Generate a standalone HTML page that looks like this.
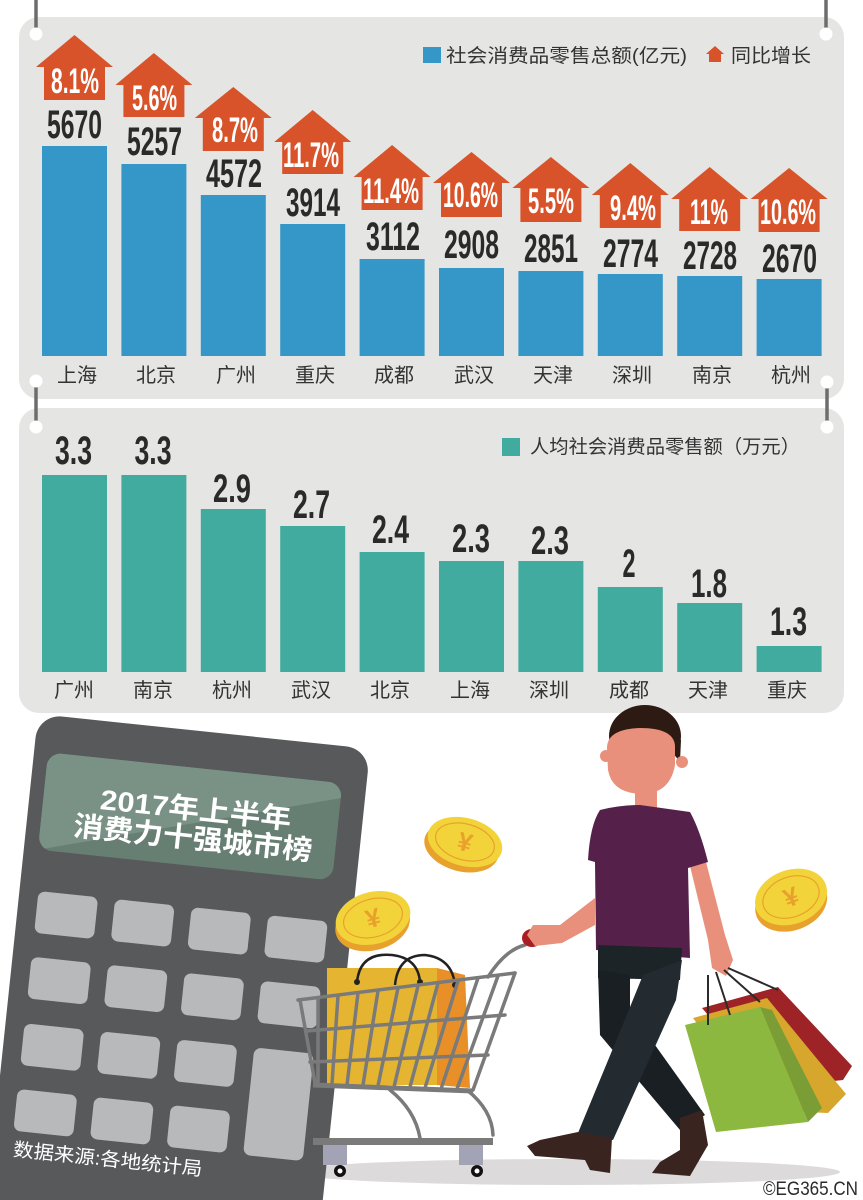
<!DOCTYPE html>
<html><head><meta charset="utf-8"><style>
html,body{margin:0;padding:0;background:#fff;width:863px;height:1200px;overflow:hidden;}
svg{display:block;overflow:hidden;}
.num{font-family:"Liberation Sans Narrow","Liberation Sans",sans-serif;font-weight:bold;fill:#2a2a2a;font-size:40px;text-anchor:middle;}
.pct{font-family:"Liberation Sans Narrow","Liberation Sans",sans-serif;font-weight:bold;fill:#fff;font-size:35px;text-anchor:middle;}
.city{font-family:"Liberation Sans","Noto Sans CJK SC",sans-serif;fill:#333;font-size:20px;text-anchor:middle;}
.leg{font-family:"Liberation Sans","Noto Sans CJK SC",sans-serif;fill:#333;font-size:19px;}
</style></head><body>
<svg width="863" height="1200" viewBox="0 0 863 1200" xmlns="http://www.w3.org/2000/svg">
<!-- panels -->
<rect x="19" y="17" width="825" height="382" rx="20" fill="#e5e5e4"/>
<rect x="19" y="408" width="825" height="305" rx="20" fill="#e5e5e4"/>
<!-- hangers -->
<g stroke="#6d6d6d" stroke-width="3.5">
<line x1="36" y1="0" x2="36" y2="30"/><line x1="826" y1="0" x2="826" y2="30"/>
<line x1="36" y1="386" x2="36" y2="423"/><line x1="827" y1="386" x2="827" y2="423"/>
</g>
<g fill="#fff">
<circle cx="36" cy="34" r="6.5"/><circle cx="826" cy="34" r="6.5"/>
<circle cx="36" cy="381" r="6.5"/><circle cx="827" cy="382" r="6.5"/>
<circle cx="36" cy="427" r="6.5"/><circle cx="827" cy="427" r="6.5"/>
</g>
<!-- legend 1 -->
<rect x="423" y="47" width="18" height="16" fill="#3596c8"/>
<text class="leg" x="446" y="62" textLength="241" lengthAdjust="spacingAndGlyphs">社会消费品零售总额(亿元)</text>
<path d="M715,46 L724,54 L721,54 L721,62 L709,62 L709,54 L706,54 Z" fill="#d9532a"/>
<text class="leg" x="731" y="62" textLength="80" lengthAdjust="spacingAndGlyphs">同比增长</text>
<!-- bars panel 1 -->
<g fill="#3596c8">
<rect x="42" y="146" width="65" height="210"/>
<rect x="121.4" y="164" width="65" height="192"/>
<rect x="200.8" y="195" width="65" height="161"/>
<rect x="280.2" y="224" width="65" height="132"/>
<rect x="359.6" y="259" width="65" height="97"/>
<rect x="439" y="268" width="65" height="88"/>
<rect x="518.4" y="271" width="65" height="85"/>
<rect x="597.8" y="274" width="65" height="82"/>
<rect x="677.2" y="276" width="65" height="80"/>
<rect x="756.6" y="279" width="65" height="77"/>
</g>
<!-- arrows -->
<g fill="#d9532a">
<path d="M74.5,35 L113,67 L105,67 L105,100 L44,100 L44,67 L36,67 Z"/>
<path d="M153.9,53 L192.4,85 L184.4,85 L184.4,117 L123.4,117 L123.4,85 L115.4,85 Z"/>
<path d="M233.3,87 L271.8,118 L263.8,118 L263.8,151 L202.8,151 L202.8,118 L194.8,118 Z"/>
<path d="M312.7,110 L351.2,142 L343.2,142 L343.2,174 L282.2,174 L282.2,142 L274.2,142 Z"/>
<path d="M392.1,145 L430.6,177 L422.6,177 L422.6,210 L361.6,210 L361.6,177 L353.6,177 Z"/>
<path d="M471.5,152 L510,183 L502,183 L502,217 L441,217 L441,183 L433,183 Z"/>
<path d="M550.9,157 L589.4,188 L581.4,188 L581.4,222 L520.4,222 L520.4,188 L512.4,188 Z"/>
<path d="M630.3,163 L668.8,195 L660.8,195 L660.8,228 L599.8,228 L599.8,195 L591.8,195 Z"/>
<path d="M709.7,167 L748.2,199 L740.2,199 L740.2,231 L679.2,231 L679.2,199 L671.2,199 Z"/>
<path d="M789.1,168 L827.6,199 L819.6,199 L819.6,232 L758.6,232 L758.6,199 L750.6,199 Z"/>
</g>
<!-- pct labels -->
<text class="pct" x="75" y="93" textLength="48" lengthAdjust="spacingAndGlyphs">8.1%</text>
<text class="pct" x="154.5" y="110" textLength="45" lengthAdjust="spacingAndGlyphs">5.6%</text>
<text class="pct" x="235" y="142" textLength="46" lengthAdjust="spacingAndGlyphs">8.7%</text>
<text class="pct" x="311" y="167" textLength="56" lengthAdjust="spacingAndGlyphs">11.7%</text>
<text class="pct" x="391" y="203" textLength="56" lengthAdjust="spacingAndGlyphs">11.4%</text>
<text class="pct" x="470.5" y="207" textLength="55" lengthAdjust="spacingAndGlyphs">10.6%</text>
<text class="pct" x="551" y="213" textLength="46" lengthAdjust="spacingAndGlyphs">5.5%</text>
<text class="pct" x="633" y="220" textLength="46" lengthAdjust="spacingAndGlyphs">9.4%</text>
<text class="pct" x="709" y="224" textLength="38" lengthAdjust="spacingAndGlyphs">11%</text>
<text class="pct" x="788" y="224" textLength="56" lengthAdjust="spacingAndGlyphs">10.6%</text>
<!-- value labels -->
<text class="num" x="74.5" y="138" textLength="55" lengthAdjust="spacingAndGlyphs">5670</text>
<text class="num" x="154.5" y="155" textLength="55" lengthAdjust="spacingAndGlyphs">5257</text>
<text class="num" x="234" y="187" textLength="56" lengthAdjust="spacingAndGlyphs">4572</text>
<text class="num" x="313" y="216" textLength="54" lengthAdjust="spacingAndGlyphs">3914</text>
<text class="num" x="393" y="250" textLength="54" lengthAdjust="spacingAndGlyphs">3112</text>
<text class="num" x="471.5" y="258" textLength="55" lengthAdjust="spacingAndGlyphs">2908</text>
<text class="num" x="551" y="262" textLength="54" lengthAdjust="spacingAndGlyphs">2851</text>
<text class="num" x="630.5" y="267" textLength="55" lengthAdjust="spacingAndGlyphs">2774</text>
<text class="num" x="710" y="269" textLength="54" lengthAdjust="spacingAndGlyphs">2728</text>
<text class="num" x="789.5" y="272" textLength="55" lengthAdjust="spacingAndGlyphs">2670</text>
<!-- cities panel 1 -->
<text class="city" x="77" y="382">上海</text>
<text class="city" x="156" y="382">北京</text>
<text class="city" x="236" y="382">广州</text>
<text class="city" x="315" y="382">重庆</text>
<text class="city" x="394" y="382">成都</text>
<text class="city" x="474" y="382">武汉</text>
<text class="city" x="553" y="382">天津</text>
<text class="city" x="632" y="382">深圳</text>
<text class="city" x="712" y="382">南京</text>
<text class="city" x="791" y="382">杭州</text>
<!-- panel 2 legend -->
<rect x="502" y="438" width="18" height="18" fill="#42ab9f"/>
<text class="leg" x="530" y="453" textLength="270" lengthAdjust="spacingAndGlyphs">人均社会消费品零售额（万元）</text>
<!-- bars panel 2 -->
<g fill="#42ab9f">
<rect x="42" y="475" width="65" height="197"/>
<rect x="121.4" y="475" width="65" height="197"/>
<rect x="200.8" y="509" width="65" height="163"/>
<rect x="280.2" y="526" width="65" height="146"/>
<rect x="359.6" y="552" width="65" height="120"/>
<rect x="439" y="561" width="65" height="111"/>
<rect x="518.4" y="561" width="65" height="111"/>
<rect x="597.8" y="587" width="65" height="85"/>
<rect x="677.2" y="603" width="65" height="69"/>
<rect x="756.6" y="646" width="65" height="26"/>
</g>
<text class="num" x="73.5" y="464" textLength="37" lengthAdjust="spacingAndGlyphs">3.3</text>
<text class="num" x="153" y="464" textLength="37" lengthAdjust="spacingAndGlyphs">3.3</text>
<text class="num" x="232" y="502" textLength="38" lengthAdjust="spacingAndGlyphs">2.9</text>
<text class="num" x="311.5" y="518" textLength="37" lengthAdjust="spacingAndGlyphs">2.7</text>
<text class="num" x="390.5" y="543" textLength="37" lengthAdjust="spacingAndGlyphs">2.4</text>
<text class="num" x="471" y="552" textLength="38" lengthAdjust="spacingAndGlyphs">2.3</text>
<text class="num" x="550" y="554" textLength="38" lengthAdjust="spacingAndGlyphs">2.3</text>
<text class="num" x="629" y="577" textLength="13" lengthAdjust="spacingAndGlyphs">2</text>
<text class="num" x="709" y="597" textLength="36" lengthAdjust="spacingAndGlyphs">1.8</text>
<text class="num" x="788.5" y="635" textLength="37" lengthAdjust="spacingAndGlyphs">1.3</text>
<text class="city" x="74" y="697">广州</text>
<text class="city" x="153" y="697">南京</text>
<text class="city" x="232" y="697">杭州</text>
<text class="city" x="311" y="697">武汉</text>
<text class="city" x="390" y="697">北京</text>
<text class="city" x="470" y="697">上海</text>
<text class="city" x="549" y="697">深圳</text>
<text class="city" x="629" y="697">成都</text>
<text class="city" x="708" y="697">天津</text>
<text class="city" x="787" y="697">重庆</text>

<!-- shadow -->
<ellipse cx="565" cy="1172" rx="275" ry="13" fill="#dcdada"/>

<!-- calculator body (absolute coords, clipped to frame) -->
<path d="M35.5,737.9 A24,24 0 0 1 61.9,716.5 L346.3,746.4 A24,24 0 0 1 367.7,772.8 L322.8,1200 L0,1200 L0,1075.5 Z" fill="#58595b"/>
<g transform="translate(38,714) rotate(6)">
<clipPath id="scr"><rect x="14" y="37" width="296" height="98" rx="14"/></clipPath>
<g clip-path="url(#scr)">
<rect x="14" y="37" width="296" height="98" fill="#677e72"/>
<polygon points="14,37 310,37 310,52 14,135" fill="#7a9186"/>
</g>
<text x="167" y="88" text-anchor="middle" textLength="192" lengthAdjust="spacingAndGlyphs" style="font-family:'Liberation Sans','Noto Sans CJK SC',sans-serif;font-weight:bold;font-size:28px;fill:#fff;">2017年上半年</text>
<text x="167" y="117" text-anchor="middle" textLength="240" lengthAdjust="spacingAndGlyphs" style="font-family:'Liberation Sans','Noto Sans CJK SC',sans-serif;font-weight:bold;font-size:28px;fill:#fff;">消费力十强城市榜</text>
<g fill="#b8b9bb">
<rect x="19" y="176" width="60" height="42" rx="7"/><rect x="96" y="176" width="60" height="42" rx="7"/><rect x="173" y="176" width="60" height="42" rx="7"/><rect x="250" y="176" width="60" height="42" rx="7"/>
<rect x="19" y="242" width="60" height="42" rx="7"/><rect x="96" y="242" width="60" height="42" rx="7"/><rect x="173" y="242" width="60" height="42" rx="7"/><rect x="250" y="242" width="60" height="42" rx="7"/>
<rect x="19" y="309" width="60" height="42" rx="7"/><rect x="96" y="309" width="60" height="42" rx="7"/><rect x="173" y="309" width="60" height="42" rx="7"/>
<rect x="19" y="375" width="60" height="42" rx="7"/><rect x="96" y="375" width="60" height="42" rx="7"/><rect x="173" y="375" width="60" height="42" rx="7"/>
<rect x="250" y="309" width="60" height="108" rx="7"/>
</g>
<text x="116" y="442" text-anchor="middle" textLength="190" lengthAdjust="spacingAndGlyphs" style="font-family:'Liberation Sans','Noto Sans CJK SC',sans-serif;font-size:19px;fill:#fff;">数据来源:各地统计局</text>
</g>

<!-- cart bag -->
<rect x="327" y="968" width="110" height="117" fill="#e5b532"/>
<polygon points="437,968 465,975 470,1088 437,1085" fill="#e98f27"/>
<g fill="none" stroke="#222" stroke-width="2.5">
<path d="M357,982 Q360,952 392,955 Q418,958 420,982"/>
<path d="M395,985 Q398,955 425,955 Q452,958 455,985"/>
</g>
<circle cx="357" cy="982" r="3" fill="#222"/><circle cx="420" cy="982" r="3" fill="#222"/><circle cx="455" cy="985" r="3" fill="#222"/>

<!-- cart -->
<g stroke="#7a7a7a" stroke-width="3.5" fill="none" stroke-linecap="round">
<line x1="298" y1="1000" x2="515" y2="973"/>
<line x1="300" y1="1000" x2="315" y2="1083"/>
<line x1="515" y1="973" x2="473" y2="1090"/>
<line x1="306" y1="1031" x2="505" y2="1015"/>
<line x1="310" y1="1062" x2="488" y2="1055"/>
<line x1="318" y1="998" x2="318" y2="1083"/>
<line x1="338" y1="996" x2="332" y2="1084"/>
<line x1="358" y1="993" x2="347" y2="1085"/>
<line x1="378" y1="991" x2="363" y2="1085"/>
<line x1="398" y1="988" x2="378" y2="1086"/>
<line x1="418" y1="986" x2="394" y2="1087"/>
<line x1="438" y1="983" x2="410" y2="1087"/>
<line x1="458" y1="981" x2="425" y2="1088"/>
<line x1="478" y1="978" x2="441" y2="1089"/>
<line x1="498" y1="976" x2="457" y2="1089"/>
<path d="M488,977 Q505,950 525,945"/>
<path d="M390,1090 Q415,1110 420,1138"/>
<path d="M467,1090 Q492,1110 493,1135"/>
</g>
<line x1="313" y1="1085" x2="473" y2="1091" stroke="#7a7a7a" stroke-width="5"/>
<rect x="313" y="1138" width="180" height="7" fill="#7a7a7a"/>
<rect x="323" y="1145" width="24" height="20" fill="#a2a4b6"/>
<rect x="459" y="1145" width="24" height="20" fill="#a2a4b6"/>
<circle cx="340" cy="1171" r="6" fill="#111"/><circle cx="340" cy="1171" r="2.5" fill="#fff"/>
<circle cx="477" cy="1171" r="6" fill="#111"/><circle cx="477" cy="1171" r="2.5" fill="#fff"/>
<ellipse cx="532" cy="938" rx="10" ry="9" fill="#a81e22"/>

<!-- coins -->
<g transform="translate(465,842) rotate(15)">
<ellipse cx="-2" cy="6" rx="38" ry="24" fill="#e9a12d"/>
<ellipse cx="0" cy="0" rx="38" ry="24" fill="#f2d43a"/>
<ellipse cx="0" cy="0" rx="30" ry="18" fill="none" stroke="#e9a12d" stroke-width="1.2"/>
<text x="0" y="9" text-anchor="middle" style="font-family:'Liberation Sans',sans-serif;font-weight:bold;font-size:26px;fill:#e9a12d;">¥</text>
</g>
<g transform="translate(373,918) rotate(-15)">
<ellipse cx="-2" cy="6" rx="38" ry="26" fill="#e9a12d"/>
<ellipse cx="0" cy="0" rx="38" ry="26" fill="#f2d43a"/>
<ellipse cx="0" cy="0" rx="30" ry="19" fill="none" stroke="#e9a12d" stroke-width="1.2"/>
<text x="0" y="9" text-anchor="middle" style="font-family:'Liberation Sans',sans-serif;font-weight:bold;font-size:26px;fill:#e9a12d;">¥</text>
</g>
<g transform="translate(791,897) rotate(-20)">
<ellipse cx="-2" cy="6" rx="37" ry="27" fill="#e9a12d"/>
<ellipse cx="0" cy="0" rx="37" ry="27" fill="#f2d43a"/>
<ellipse cx="0" cy="0" rx="29" ry="20" fill="none" stroke="#e9a12d" stroke-width="1.2"/>
<text x="0" y="9" text-anchor="middle" style="font-family:'Liberation Sans',sans-serif;font-weight:bold;font-size:26px;fill:#e9a12d;">¥</text>
</g>

<!-- man -->
<ellipse cx="645" cy="736" rx="36" ry="31" fill="#2c1a13"/>
<polygon points="670,735 681,740 680,762 672,752" fill="#2c1a13"/>
<circle cx="606" cy="756" r="6" fill="#e8907b"/>
<circle cx="682" cy="762" r="6" fill="#e8907b"/>
<rect x="635" y="785" width="22" height="25" fill="#e8907b"/>
<path d="M607,748 Q607,729 640,728 Q674,728 675,746 L675,765 Q670,794 641,794 Q612,793 608,770 Z" fill="#e8907b"/>
<polygon points="595,898 560,925 533,925 527,935 535,946 562,943 595,925" fill="#e8907b"/>
<polygon points="690,866 706,862 725,935 733,960 726,976 712,968 708,940" fill="#e8907b"/>
<path d="M600,810 Q620,805 640,805 L690,812 Q700,830 708,862 L688,868 L690,958 L596,950 L595,862 L588,860 Q590,825 600,810 Z" fill="#55214b"/>
<polygon points="598,945 682,948 680,980 598,978" fill="#1d2428"/>
<polygon points="598,970 630,975 630,1010 705,1115 680,1130 600,1035" fill="#1a1f23"/>
<polygon points="643,975 682,960 676,1000 613,1140 578,1133 628,1012" fill="#232b30"/>
<polygon points="578,1132 612,1138 610,1173 590,1170 585,1160 535,1156 527,1146 540,1140" fill="#3a2420"/>
<polygon points="680,1118 702,1110 708,1145 690,1176 652,1173 660,1162 680,1150" fill="#3a2420"/>

<!-- right bags -->
<polygon points="702,1008 778,987 852,1066 843,1080 770,1088" fill="#9e2326"/>
<polygon points="693,1018 767,998 846,1094 828,1113 760,1110" fill="#d7a62c"/>
<polygon points="760,1007 772,1010 822,1108 808,1122" fill="#7a9e35"/>
<polygon points="685,1025 760,1007 808,1122 716,1132" fill="#8db83f"/>
<g stroke="#2a2a2a" stroke-width="2" fill="none">
<line x1="708" y1="975" x2="708" y2="1025"/>
<line x1="716" y1="972" x2="730" y2="1015"/>
<line x1="724" y1="970" x2="760" y2="1002"/>
<line x1="728" y1="968" x2="778" y2="990"/>
</g>

<text x="763" y="1195" textLength="95" lengthAdjust="spacingAndGlyphs" style="font-family:'Liberation Sans',sans-serif;font-size:19px;fill:#2b2b2b;">©EG365.CN</text>
</svg>
</body></html>
